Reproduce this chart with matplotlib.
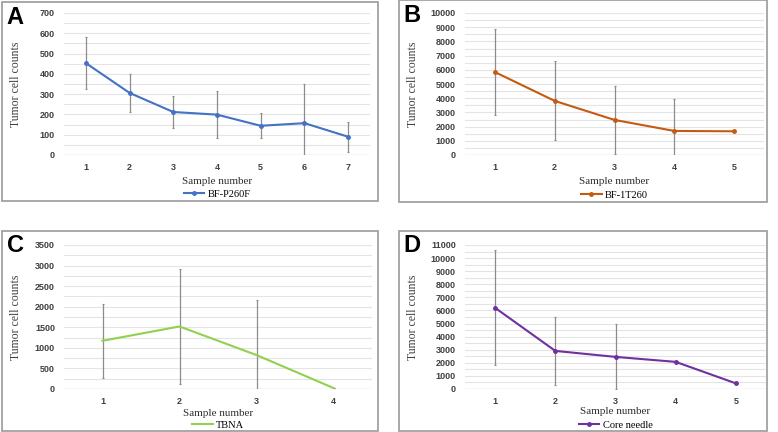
import matplotlib
matplotlib.use("Agg")
import matplotlib.pyplot as plt
from matplotlib.patches import Rectangle
from matplotlib.lines import Line2D

W, H = 778, 432

# panel A
a_x = [1, 2, 3, 4, 5, 6, 7]
a_mean = [453, 306, 212, 199, 144, 157, 90]
a_sd = [127, 95, 78, 116, 62, 193, 75]
# panel B
b_x = [1, 2, 3, 4, 5]
b_mean = [5840, 3810, 2470, 1694, 1670]
b_sd = [3000, 2780, 2380, 2256, 0]
# panel C
c_x = [1, 2, 3, 4]
c_mean = [1172, 1520, 825, 24]
c_sd = [900, 1390, 1342, 0]
# panel D
d_x = [1, 2, 3, 4, 5]
d_mean = [6200, 2910, 2453, 2073, 430]
d_sd = [4390, 2590, 2477, 0, 0]

panels = [
    # letter, x, mean, sd, ymax, ystep, colour, legend, marker, box, plot area (px), label offsets
    ("A", a_x, a_mean, a_sd, 700, 100, "#4472C4", "BF-P260F", "o",
     (2, 2, 378, 201), (64, 13, 370, 155), (27, 39)),
    ("B", b_x, b_mean, b_sd, 10000, 1000, "#C55A11", "BF-1T260", "o",
     (399, 0, 767, 202), (465, 13, 764, 155), (27, 40)),
    ("C", c_x, c_mean, c_sd, 3500, 500, "#92D050", "TBNA", None,
     (2, 231, 378, 431), (64, 245, 372, 389), (24, 36)),
    ("D", d_x, d_mean, d_sd, 11000, 1000, "#7030A0", "Core needle", "o",
     (399, 231, 767, 431), (465, 245, 766, 389), (23, 36)),
]

fig = plt.figure(figsize=(W / 100, H / 100), dpi=100)

serif = "Liberation Serif"
sans = "Liberation Sans"


def fx(px):
    return px / W


def fy(py):
    return 1 - py / H


for (letter, xs, mean, sd, ymax, ystep, col, name, mk, box, area, offs) in panels:
    bx0, by0, bx1, by1 = box
    fig.patches.append(Rectangle((fx(bx0), fy(by1)), fx(bx1 - bx0), (by1 - by0) / H,
                                 transform=fig.transFigure, fill=False,
                                 edgecolor="#9a9a9a", linewidth=1.2))
    x0, y0, x1, y1 = area
    ax = fig.add_axes([fx(x0), fy(y1), fx(x1 - x0), (y1 - y0) / H])

    # half-step grid lines like the original
    k = 0
    while k * ystep / 2 <= ymax:
        ax.axhline(k * ystep / 2, color="#e4e4e4", linewidth=0.8, zorder=0)
        k += 1
    ax.axhline(0, color="#d0d0d0", linewidth=0.9, zorder=0)

    ax.errorbar(xs, mean, yerr=sd, fmt="none", ecolor="#8c8c8c",
                elinewidth=0.9, capsize=1, capthick=0.8, zorder=2)
    ax.plot(xs, mean, color=col, linewidth=1.5, marker=mk, markersize=2.5, zorder=3)

    ax.set_xlim(0.5, len(xs) + 0.5)
    ax.set_ylim(0, ymax)
    ax.set_xticks(xs)
    ax.set_yticks(range(0, ymax + 1, ystep))
    ax.tick_params(axis="y", length=0, labelsize=6.5, pad=6.5)
    ax.tick_params(axis="x", length=0, labelsize=6.5, pad=6)
    for t in ax.get_xticklabels() + ax.get_yticklabels():
        t.set_fontfamily(sans)
        t.set_fontweight("bold")
        t.set_color("#404040")
    for s in ax.spines.values():
        s.set_visible(False)
    ax.set_facecolor("none")

    cx = (x0 + x1) / 2
    fig.text(fx(bx0 + 13), fy(by0 + 15 if by0 > 0 else 15), letter,
             fontsize=17, fontweight="bold", family=sans,
             ha="center", va="center")
    fig.text(fx(bx0 + 14), fy((y0 + y1) / 2), "Tumor cell counts",
             rotation=90, fontsize=8.5, family=serif, ha="center", va="center",
             color="#404040")
    fig.text(fx(cx), fy(y1 + offs[0]), "Sample number", fontsize=8, family=serif,
             ha="center", va="center", color="#303030")
    handle = Line2D([], [], color=col, linewidth=1.5, marker=mk, markersize=2.5)
    fig.legend([handle], [name], loc="center", bbox_to_anchor=(fx(cx), fy(y1 + offs[1])),
               frameon=False, prop={"family": serif, "size": 7.5},
               handlelength=2, handletextpad=0.3, borderpad=0, borderaxespad=0)

fig.savefig("out.png", dpi=100)
